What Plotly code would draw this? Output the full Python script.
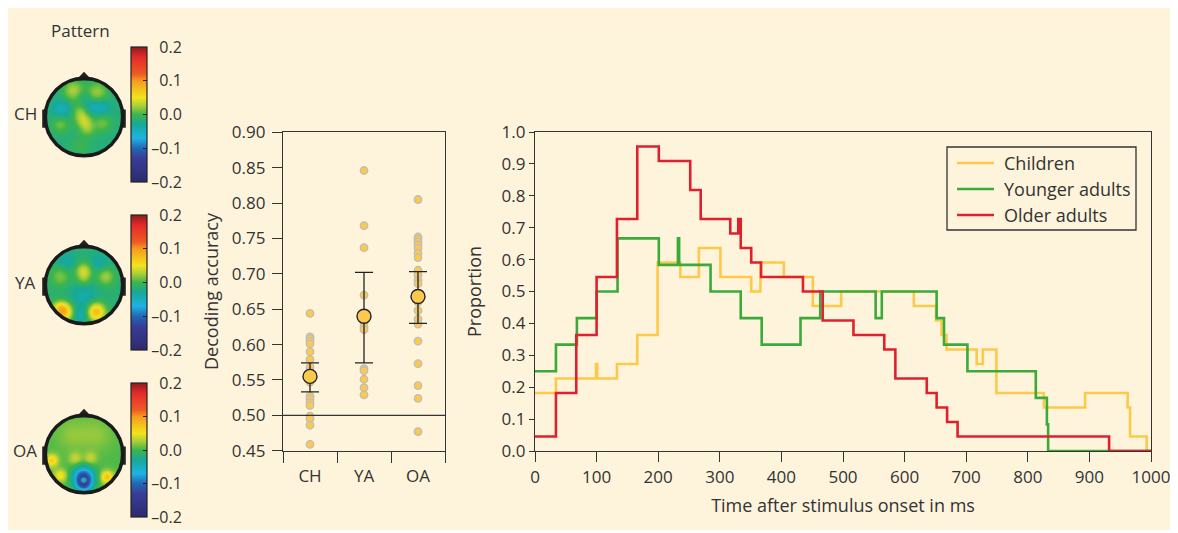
import numpy as np
import plotly.graph_objects as go

W, H = 1178, 533
OX, OY = 8, 8   # the page shows the figure shifted by the body margin
CREAM = "#fef4dc"
TXT = "#333333"
FONT = "Open Sans"

groups = ["CH", "YA", "OA"]
topo_base = [-0.018, -0.015, 0.004]
ch_bx = [-0.27, 0.36, -0.58, 0.45, -0.10, 0.00, 0.10, -0.62, 0.50, 0.18, -0.10, 0.00]
ch_by = [0.69, 0.64, 0.20, 0.24, 0.12, -0.10, -0.32, -0.20, -0.16, 0.28, -0.78, 0.55]
ch_amp = [0.045, 0.04, -0.03, -0.03, 0.03, 0.04, 0.03, 0.03, 0.03, -0.02, 0.015, -0.015]
ch_sig = [0.2, 0.2, 0.17, 0.17, 0.15, 0.15, 0.15, 0.16, 0.17, 0.13, 0.2, 0.13]

ya_bx = [0.00, 0.00, -0.62, 0.58, -0.52, -0.66, 0.33, -0.08, -0.45, 0.40, 0.00]
ya_by = [0.38, 0.15, 0.22, 0.22, -0.72, -0.62, -0.72, -0.80, 0.62, 0.58, -0.30]
ya_amp = [0.05, 0.025, 0.03, 0.04, 0.09, 0.04, 0.095, -0.03, -0.02, -0.02, -0.025]
ya_sig = [0.15, 0.13, 0.18, 0.16, 0.17, 0.14, 0.17, 0.14, 0.18, 0.18, 0.24]

oa_bx = [-0.30, 0.35, -0.22, 0.18, -0.85, -0.62, 0.62, 0.00, 0.00, 0.00]
oa_by = [0.50, 0.50, -0.13, -0.12, -0.18, -0.58, -0.62, -0.62, -0.80, -0.70]
oa_amp = [0.015, 0.015, 0.03, 0.03, 0.06, 0.05, 0.07, -0.12, -0.08, 0.17]
oa_sig = [0.3, 0.3, 0.12, 0.12, 0.12, 0.12, 0.12, 0.19, 0.14, 0.05]

colorbar_ticks = [-0.2, -0.1, 0.0, 0.1, 0.2]
colorbar_text = ["\u20130.2", "\u20130.1", "\u20020.0", "\u20020.1", "\u20020.2"]

acc_categories = ["CH", "YA", "OA"]
acc_ch = [0.644, 0.611, 0.608, 0.605, 0.601, 0.590, 0.579, 0.568, 0.562, 0.547,
          0.527, 0.523, 0.518, 0.514, 0.499, 0.495, 0.486, 0.459]
acc_ya = [0.846, 0.768, 0.737, 0.670, 0.630, 0.625, 0.621, 0.566, 0.563, 0.551, 0.539, 0.529]
acc_oa = [0.805, 0.752, 0.749, 0.745, 0.741, 0.736, 0.729, 0.723, 0.705, 0.698, 0.691,
          0.686, 0.667, 0.660, 0.648, 0.636, 0.629, 0.605, 0.573, 0.542, 0.524, 0.477]
acc_mean = [0.555, 0.640, 0.668]
acc_upper = [0.574, 0.702, 0.703]
acc_lower = [0.533, 0.574, 0.630]
chance_level = 0.50

ch_t = [0, 34, 99, 101, 133, 166, 199, 236, 266, 301, 351, 366, 404, 451, 497, 615, 651,
        660, 668, 717, 727, 749, 826, 893, 962, 966, 993, 1000]
ch_p = [4, 5, 6, 5, 6, 8, 13, 12, 14, 12, 11, 13, 12, 10, 11, 10, 9, 8, 7, 6, 7, 4, 3,
        4, 3, 1, 0, 0]
ch_n = 22
ya_t = [0, 34, 68, 100, 134, 201, 232, 234, 285, 334, 368, 431, 463, 553, 563, 652, 664,
        702, 813, 831, 833, 1000]
ya_p = [3, 4, 5, 6, 8, 7, 8, 7, 6, 5, 4, 5, 6, 5, 6, 5, 4, 3, 2, 1, 0, 0]
ya_n = 12
oa_t = [0, 34, 67, 100, 133, 166, 201, 252, 269, 317, 330, 334, 351, 367, 435, 467, 517,
        567, 585, 636, 652, 669, 686, 932, 1000]
oa_p = [1, 4, 8, 12, 16, 21, 20, 18, 16, 15, 16, 14, 13, 12, 11, 9, 8, 7, 5, 4, 3, 2, 1,
        0, 0]
oa_n = 22
series_names = ["Children", "Younger adults", "Older adults"]
series_colors = ["#fcc94a", "#3aaa3a", "#e0202e"]


def px_x(x):
    return min(max((x - OX) / W, 0.0), 1.0)


def px_y(y):
    return min(max(1 - (y - OY) / H, 0.0), 1.0)


jet_like = [
    [0.0, "#2c2a6e"], [0.175, "#393d97"], [0.25, "#2467b5"], [0.325, "#1db3e4"],
    [0.425, "#16a99a"], [0.5, "#3db54a"], [0.5625, "#a8cd3a"], [0.625, "#f3e31c"],
    [0.75, "#f59b1d"], [0.8, "#ef5a24"], [0.925, "#e42a2a"], [1.0, "#8e1b1d"],
]

fig = go.Figure()

shapes = [dict(type="rect", xref="paper", yref="paper", x0=px_x(3), x1=px_x(1175),
               y0=px_y(530), y1=px_y(8), fillcolor=CREAM, line_width=0, layer="below")]
annotations = []

grid = np.linspace(-1, 1, 161)
XX, YY = np.meshgrid(grid, grid)
RR = np.sqrt(XX ** 2 + YY ** 2)
blob_sets = [(ch_bx, ch_by, ch_amp, ch_sig), (ya_bx, ya_by, ya_amp, ya_sig),
             (oa_bx, oa_by, oa_amp, oa_sig)]
head_centers = [(84, 117), (84, 285), (84, 454)]
head_r = 38
cbar_spans = [(47, 182), (215, 350), (383, 517)]
label_y = [113, 282, 450]

layout_axes = {}
for i, g in enumerate(groups):
    bx, by, amp, sig = blob_sets[i]
    z = np.full_like(XX, topo_base[i])
    for x0, y0, a, s in zip(bx, by, amp, sig):
        z += a * np.exp(-((XX - x0) ** 2 + (YY - y0) ** 2) / (2 * s * s))
    z = np.clip(z, -0.2, 0.2)
    z[RR > 1.0] = np.nan
    ax_n = i + 3
    cx, cy = head_centers[i]
    cb0, cb1 = cbar_spans[i]
    fig.add_trace(go.Heatmap(
        x=grid, y=grid, z=z, zmin=-0.2, zmax=0.2, colorscale=jet_like, zsmooth=False,
        xaxis=f"x{ax_n}", yaxis=f"y{ax_n}", hoverinfo="skip",
        colorbar=dict(x=px_x(131), xanchor="left", xpad=0, y=px_y(cb0), yanchor="top",
                      ypad=0, len=cb1 - cb0, lenmode="pixels", thickness=16,
                      thicknessmode="pixels", outlinewidth=1.2, outlinecolor="#222",
                      tickvals=colorbar_ticks, ticktext=colorbar_text, ticks="inside",
                      ticklen=4, tickcolor="#222", tickwidth=1.2,
                      tickfont=dict(family=FONT, size=16, color=TXT)),
    ))
    layout_axes[f"xaxis{ax_n}"] = dict(domain=[px_x(cx - 1.2 * head_r), px_x(cx + 1.2 * head_r)],
                                       range=[-1.2, 1.2], visible=False, fixedrange=True,
                                       automargin=False)
    layout_axes[f"yaxis{ax_n}"] = dict(domain=[px_y(cy + 1.25 * head_r), px_y(cy - 1.25 * head_r)],
                                       range=[-1.25, 1.25], visible=False, fixedrange=True,
                                       automargin=False)
    xr, yr = f"x{ax_n}", f"y{ax_n}"
    for sx in (-1, 1):
        shapes.append(dict(type="rect", xref=xr, yref=yr, x0=sx * 0.97, x1=sx * 1.1,
                           y0=-0.28, y1=0.2, fillcolor="#222", line_width=0))
    shapes.append(dict(type="path", xref=xr, yref=yr,
                       path="M -0.22 0.96 L 0 1.19 L 0.22 0.96 Z",
                       fillcolor="#222", line_width=0))
    shapes.append(dict(type="circle", xref=xr, yref=yr, x0=-1.02, x1=1.02, y0=-1.02, y1=1.02,
                       line=dict(color="#1a1a1a", width=3.5)))
    annotations.append(dict(x=px_x(25), y=px_y(label_y[i]), xref="paper", yref="paper",
                            xanchor="center", yanchor="middle",
                            text=g, showarrow=False, font=dict(family=FONT, size=17, color=TXT)))

annotations.append(dict(x=px_x(80), y=px_y(30), xref="paper", yref="paper", text="Pattern",
                        xanchor="center", yanchor="middle",
                        showarrow=False, font=dict(family=FONT, size=17, color=TXT)))

acc_values = [acc_ch, acc_ya, acc_oa]
for i, vals in enumerate(acc_values):
    fig.add_trace(go.Scatter(
        x=[i + 0.5] * len(vals), y=vals, mode="markers", showlegend=False,
        marker=dict(size=7.5, color="#fcc94d", line=dict(color="#bdbdbd", width=1.3)),
        xaxis="x", yaxis="y", hoverinfo="skip"))
fig.add_trace(go.Scatter(
    x=[i + 0.5 for i in range(3)], y=acc_mean, mode="markers", showlegend=False,
    marker=dict(size=14, color="#fcc94d", line=dict(color="#222", width=1.4)),
    error_y=dict(type="data", symmetric=False,
                 array=[u - m for u, m in zip(acc_upper, acc_mean)],
                 arrayminus=[m - l for m, l in zip(acc_mean, acc_lower)],
                 color="#222", thickness=1.3, width=9),
    xaxis="x", yaxis="y", hoverinfo="skip"))
shapes.append(dict(type="line", xref="x", yref="y", x0=0, x1=3, y0=chance_level, y1=chance_level,
                   line=dict(color="#333", width=1.2)))

for t, p, n, name, col in zip([ch_t, ya_t, oa_t], [ch_p, ya_p, oa_p], [ch_n, ya_n, oa_n],
                              series_names, series_colors):
    fig.add_trace(go.Scatter(
        x=t, y=[v / n for v in p], mode="lines", name=name, line=dict(color=col, width=2.6, shape="hv"),
        xaxis="x2", yaxis="y2", showlegend=False, hoverinfo="skip"))

leg_box = (947, 147, 1136, 230)
leg_rows = [163, 189, 215]
shapes.append(dict(type="rect", xref="paper", yref="paper", x0=px_x(leg_box[0]), x1=px_x(leg_box[2]),
                   y0=px_y(leg_box[3]), y1=px_y(leg_box[1]), line=dict(color="#333", width=1.3)))
for name, col, ry in zip(series_names, series_colors, leg_rows):
    shapes.append(dict(type="line", xref="paper", yref="paper", x0=px_x(957), x1=px_x(994),
                       y0=px_y(ry), y1=px_y(ry), line=dict(color=col, width=2.6)))
    annotations.append(dict(x=px_x(1002), y=px_y(ry), xref="paper", yref="paper", text=name,
                            xanchor="left", yanchor="middle", showarrow=False,
                            font=dict(family=FONT, size=18, color=TXT)))

axis_common = dict(showline=True, linecolor="#333", linewidth=1.2, mirror=True, showgrid=False,
                   zeroline=False, tickcolor="#333", tickwidth=1.2, automargin=False,
                   tickfont=dict(family=FONT, size=17, color=TXT))
title_font = dict(family=FONT, size=18, color=TXT)

fig.update_layout(
    width=W, height=H, margin=dict(l=0, r=0, t=0, b=0, pad=0, autoexpand=False),
    paper_bgcolor="white", plot_bgcolor="rgba(0,0,0,0)",
    font=dict(family=FONT, color=TXT), showlegend=False,
    xaxis=dict(domain=[px_x(283), px_x(445)], range=[0, 3], tickvals=[0.5, 1.5, 2.5],
               ticktext=acc_categories, ticks="", ticklabelstandoff=10,
               minor=dict(tickmode="array", tickvals=[0, 1, 2, 3], ticks="outside", ticklen=11,
                          tickcolor="#333", tickwidth=1.2),
               **axis_common),
    yaxis=dict(domain=[px_y(450.7), px_y(132.3)], range=[0.45, 0.90], dtick=0.05, tick0=0.45,
               tickformat=".2f", ticks="outside", ticklen=10, ticklabelstandoff=3,
               title=dict(text="Decoding accuracy", font=title_font, standoff=8),
               **axis_common),
    xaxis2=dict(domain=[px_x(535), px_x(1151)], range=[0, 1000], dtick=100, ticks="outside",
                ticklen=10, anchor="y2",
                title=dict(text="Time after stimulus onset in ms", font=title_font, standoff=12),
                **axis_common),
    yaxis2=dict(domain=[px_y(451), px_y(132)], range=[0, 1], dtick=0.1, tickformat=".1f",
                ticks="outside", ticklen=5, anchor="x2",
                title=dict(text="Proportion", font=title_font, standoff=15),
                **axis_common),
    shapes=shapes, annotations=annotations,
    **layout_axes,
)

fig.write_html("out.html", config={"displayModeBar": False})
